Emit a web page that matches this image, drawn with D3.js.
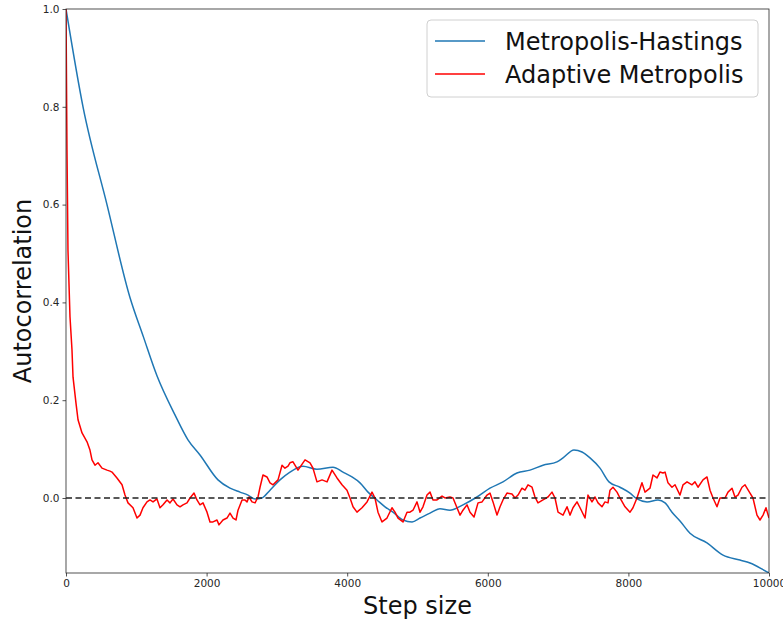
<!DOCTYPE html>
<html>
<head>
<meta charset="utf-8">
<script src="https://cdn.jsdelivr.net/npm/d3@7"></script>
<style>
  html, body { margin: 0; padding: 0; background: #fff; }
  svg { display: block; font-family: "DejaVu Sans", sans-serif; }
</style>
</head>
<body>
<svg id="chart" width="783" height="623"></svg>
<script>
// Metropolis-Hastings autocorrelation (step, value)
const mhSteps = [0, 242, 583, 910, 1100, 1294, 1550, 1735, 1906, 2162, 2333, 2475, 2589, 2689, 2788,
  2902, 3044, 3186, 3371, 3570, 3798, 3940, 4068, 4182, 4296, 4424, 4538, 4651, 4794, 4922, 5036, 5178,
  5320, 5462, 5647, 5846, 6031, 6216, 6415, 6600, 6785, 6984, 7070, 7226, 7340, 7454, 7596, 7724, 7880,
  8023, 8122, 8265, 8421, 8521, 8620, 8734, 8876, 9118, 9346, 9587, 9730, 9972, 10000];
const mhValues = [1.0, 0.80, 0.60, 0.41, 0.33, 0.25, 0.17, 0.119, 0.088, 0.037, 0.02, 0.012,
  0.006, -0.002, 0.0, 0.016, 0.037, 0.053, 0.065, 0.059, 0.063, 0.053, 0.043, 0.031, 0.012, -0.004, -0.018,
  -0.029, -0.045, -0.049, -0.041, -0.031, -0.022, -0.025, -0.014, 0.002, 0.02, 0.033, 0.051, 0.057, 0.067,
  0.074, 0.082, 0.098, 0.094, 0.082, 0.061, 0.033, 0.022, 0.01, -0.002, -0.008, -0.004, -0.01, -0.029,
  -0.047, -0.072, -0.092, -0.117, -0.127, -0.133, -0.151, -0.153];

// Adaptive Metropolis autocorrelation (step, value)
const amSteps = [0, 14, 28, 57, 85, 100, 142, 171, 228, 299, 341, 370, 412, 455, 512, 583, 626, 654, 725, 797,
  839, 882, 953, 1010, 1053, 1095, 1152, 1195, 1238, 1294, 1337, 1380, 1437, 1479, 1522, 1579, 1622, 1664,
  1721, 1764, 1821, 1863, 1906, 1949, 2006, 2048, 2091, 2148, 2176, 2233, 2290, 2333, 2376, 2418, 2447,
  2504, 2546, 2575, 2603, 2646, 2689, 2731, 2760, 2802, 2859, 2902, 2945, 3016, 3073, 3115, 3158, 3186,
  3229, 3300, 3400, 3471, 3513, 3570, 3642, 3713, 3784, 3855, 3926, 3997, 4040, 4083, 4139, 4211, 4282,
  4353, 4395, 4438, 4495, 4566, 4637, 4680, 4723, 4794, 4851, 4893, 4936, 4993, 5036, 5078, 5135, 5178,
  5220, 5277, 5349, 5391, 5462, 5505, 5562, 5605, 5647, 5704, 5747, 5804, 5861, 5918, 5989, 6031, 6074,
  6131, 6174, 6216, 6273, 6344, 6387, 6430, 6486, 6529, 6572, 6629, 6671, 6714, 6785, 6856, 6913, 6956,
  6999, 7070, 7127, 7169, 7212, 7269, 7312, 7383, 7425, 7482, 7525, 7568, 7624, 7667, 7710, 7738, 7781,
  7838, 7880, 7952, 8023, 8065, 8122, 8193, 8236, 8307, 8350, 8407, 8449, 8492, 8521, 8563, 8620, 8663,
  8734, 8777, 8834, 8905, 8947, 8990, 9061, 9118, 9161, 9204, 9260, 9303, 9374, 9417, 9474, 9516, 9559,
  9616, 9659, 9730, 9772, 9829, 9872, 9915, 9957, 10000];
const amValues = [1.0, 0.712, 0.507, 0.37, 0.303, 0.247, 0.194, 0.16, 0.133, 0.115, 0.098, 0.078, 0.067, 0.072,
  0.061, 0.057, 0.055, 0.053, 0.041, 0.027, 0.006, -0.01, -0.02, -0.041, -0.035, -0.02, -0.008, -0.004,
  -0.008, -0.002, -0.02, -0.014, -0.004, -0.01, -0.002, -0.014, -0.018, -0.014, -0.01, 0.0, 0.01, -0.004,
  -0.014, -0.01, -0.029, -0.049, -0.049, -0.045, -0.055, -0.045, -0.041, -0.031, -0.041, -0.045, -0.025,
  -0.004, -0.004, -0.008, 0.002, -0.008, -0.01, 0.002, 0.022, 0.047, 0.043, 0.031, 0.027, 0.037, 0.067,
  0.061, 0.065, 0.072, 0.074, 0.057, 0.078, 0.072, 0.061, 0.033, 0.037, 0.033, 0.057, 0.041, 0.027, 0.016,
  0.0, -0.018, -0.029, -0.02, -0.008, 0.012, 0.0, -0.029, -0.049, -0.041, -0.02, -0.029, -0.041, -0.049,
  -0.029, -0.029, -0.025, -0.008, -0.029, -0.018, 0.006, 0.012, -0.004, -0.004, 0.004, 0.0, 0.002, 0.0,
  -0.02, -0.035, -0.025, -0.014, -0.029, -0.039, -0.01, -0.008, 0.006, 0.01, -0.008, -0.035, -0.018,
  -0.004, 0.01, 0.008, 0.0, 0.006, 0.02, 0.016, 0.027, 0.022, 0.002, -0.01, -0.004, 0.002, 0.012, 0.0,
  -0.029, -0.035, -0.018, -0.035, -0.02, -0.008, -0.02, -0.041, 0.006, -0.008, 0.002, -0.01, -0.018,
  -0.008, -0.01, 0.016, 0.022, 0.012, 0.0, -0.018, -0.029, -0.02, 0.0, 0.031, 0.012, 0.02, 0.047, 0.041,
  0.053, 0.051, 0.053, 0.031, 0.022, 0.027, 0.006, 0.027, 0.033, 0.027, 0.033, 0.022, 0.037, 0.043, 0.016,
  0.0, -0.018, 0.0, 0.0, 0.012, 0.02, 0.002, 0.006, 0.022, 0.027, 0.01, 0.0, -0.035, -0.045, -0.035,
  -0.02, -0.041];

const xTicks = [0, 2000, 4000, 6000, 8000, 10000];
const yTicks = [0.0, 0.2, 0.4, 0.6, 0.8, 1.0];
const seriesNames = ["Metropolis-Hastings", "Adaptive Metropolis"];
const seriesColors = ["#1f77b4", "#ff0000"];

const margin = { top: 9, right: 14, bottom: 50, left: 66 };
const width = 783 - margin.left - margin.right;
const height = 623 - margin.top - margin.bottom;

const svg = d3.select("#chart");
const g = svg.append("g").attr("transform", `translate(${margin.left},${margin.top})`);

const x = d3.scaleLinear().domain([0, 10000]).range([0, width]);
const y = d3.scaleLinear().domain([-0.1534, 1.0]).range([height, 0]);

svg.append("defs").append("clipPath").attr("id", "plot-clip")
  .append("rect").attr("width", width).attr("height", height);

// blue curve is smooth in the original, red one is jagged
const smoothLine = d3.line().x(d => x(d[0])).y(d => y(d[1])).curve(d3.curveMonotoneX);
const rawLine = d3.line().x(d => x(d[0])).y(d => y(d[1]));
const mhData = d3.zip(mhSteps, mhValues);
const amData = d3.zip(amSteps, amValues);

const plot = g.append("g").attr("clip-path", "url(#plot-clip)");
[[mhData, smoothLine], [amData, rawLine]].forEach(([data, gen], i) => {
  plot.append("path")
    .datum(data)
    .attr("fill", "none")
    .attr("stroke", seriesColors[i])
    .attr("stroke-width", 1.5)
    .attr("stroke-linejoin", "round")
    .attr("d", gen);
});

// zero reference line
plot.append("line")
  .attr("x1", 0).attr("x2", width)
  .attr("y1", y(0)).attr("y2", y(0))
  .attr("stroke", "#222")
  .attr("stroke-width", 1.5)
  .attr("stroke-dasharray", "6,3.5");

// axes
const xAxis = g.append("g").attr("transform", `translate(0,${height})`)
  .call(d3.axisBottom(x).tickValues(xTicks).tickFormat(d3.format("d")).tickSize(3.5).tickPadding(3));
const yAxis = g.append("g")
  .call(d3.axisLeft(y).tickValues(yTicks).tickFormat(d3.format(".1f")).tickSize(3.5).tickPadding(3));
[xAxis, yAxis].forEach(a => {
  a.select(".domain").remove();
  a.selectAll("text").attr("font-size", 10.5).attr("fill", "#262626").attr("font-family", "DejaVu Sans, sans-serif");
  a.selectAll("line").attr("stroke", "#262626").attr("stroke-width", 0.8);
});

// frame
g.append("rect")
  .attr("width", width).attr("height", height)
  .attr("fill", "none").attr("stroke", "#262626").attr("stroke-width", 0.8);

// axis titles
g.append("text")
  .attr("x", width / 2).attr("y", height + 41)
  .attr("text-anchor", "middle")
  .attr("font-size", 24).attr("fill", "#111")
  .text("Step size");
g.append("text")
  .attr("transform", `translate(${-35},${height / 2}) rotate(-90)`)
  .attr("text-anchor", "middle")
  .attr("font-size", 24).attr("fill", "#111")
  .text("Autocorrelation");

// legend
const legend = g.append("g").attr("transform", `translate(${427 - margin.left},${20 - margin.top})`);
legend.append("rect")
  .attr("width", 331).attr("height", 77).attr("rx", 4)
  .attr("fill", "#fff").attr("fill-opacity", 0.8)
  .attr("stroke", "#d0d0d0").attr("stroke-width", 1);
seriesNames.forEach((name, i) => {
  const row = legend.append("g").attr("transform", `translate(0,${21 + i * 33})`);
  row.append("line").attr("x1", 8).attr("x2", 58)
    .attr("stroke", seriesColors[i]).attr("stroke-width", 1.5);
  row.append("text").attr("x", 78).attr("dy", "0.36em")
    .attr("font-size", 24).attr("fill", "#111")
    .text(name);
});
</script>
</body>
</html>
